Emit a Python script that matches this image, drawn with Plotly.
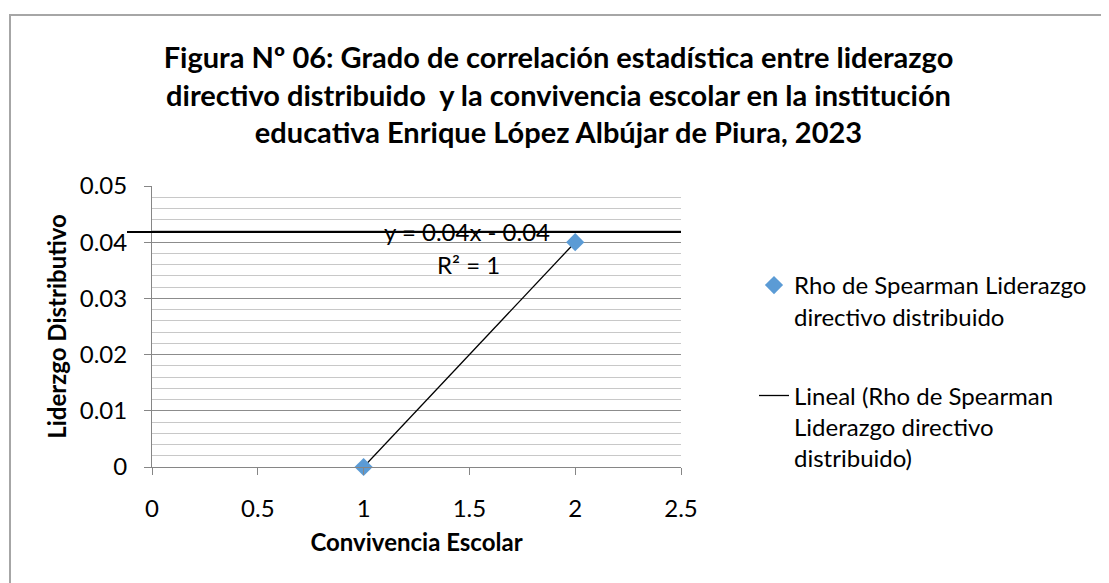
import numpy as np
import plotly.graph_objects as go

# ---- data ----
convivencia = [1, 2]                 # x values (Convivencia Escolar)
liderazgo = [0.0, 0.04]              # y values (Liderazgo Distributivo)
y_tick_vals = [0, 0.01, 0.02, 0.03, 0.04, 0.05]
y_tick_text = ["0", "0.01", "0.02", "0.03", "0.04", "0.05"]
x_tick_vals = [0, 0.5, 1, 1.5, 2, 2.5]
x_tick_text = ["0", "0.5", "1", "1.5", "2", "2.5"]
series_name = "Rho de Spearman Liderazgo<br>directivo distribuido"
trend_name = "Lineal (Rho de Spearman<br>Liderazgo directivo<br>distribuido)"
title_lines = [
    "Figura Nº 06: Grado de correlación estadística entre liderazgo",
    "directivo distribuido  y la convivencia escolar en la institución",
    "educativa Enrique López Albújar de Piura, 2023",
]
x_title = "Convivencia Escolar"
y_title = "Liderzgo Distributivo"
stray_line_level = 0.0418            # horizontal black line drawn over the chart

# ---- trendline from the data ----
m, b = np.polyfit(convivencia, liderazgo, 1)
trend_x = [min(convivencia), max(convivencia)]
trend_y = [m * v + b for v in trend_x]
pred = np.polyval([m, b], convivencia)
ss_res = float(np.sum((np.array(liderazgo) - pred) ** 2))
ss_tot = float(np.sum((np.array(liderazgo) - np.mean(liderazgo)) ** 2))
r2 = 1 - ss_res / ss_tot if ss_tot else 1
sign = "-" if b < 0 else "+"
eq_text = f"y = {m:.2f}x {sign} {abs(b):.2f}"
r2_text = f"R² = {r2:g}"

FONT = "Lato, 'Open Sans', sans-serif"

fig = go.Figure()
fig.add_trace(go.Scatter(
    x=trend_x, y=trend_y, mode="lines", name=trend_name,
    line=dict(color="black", width=1.3),
    legendgroup="b", legendrank=2,
))
fig.add_trace(go.Scatter(
    x=convivencia, y=liderazgo, mode="markers", name=series_name,
    marker=dict(symbol="diamond", size=14, color="#5B9BD5"),
    legendgroup="a", legendrank=1, cliponaxis=False,
))

OFF = 8  # page body margin
W, H = 1101, 575
L = 152 - OFF
T = 186 - OFF
R = W - (681 - OFF)
B = H - (467 - OFF)
pw, ph = W - L - R, H - T - B

def px_x(p):  # screen x -> paper
    return (p - OFF - L) / pw

def px_y(p):  # screen y -> paper
    return (H - B - (p - OFF)) / ph

fig.update_layout(
    width=W, height=H,
    margin=dict(l=L, r=R, t=T, b=B, autoexpand=False),
    paper_bgcolor="white", plot_bgcolor="white",
    font=dict(family=FONT, size=24, color="black"),
    title=dict(
        text="<b>" + "<br>".join(title_lines) + "</b>",
        x=0.5, xanchor="center", xref="container",
        y=1 - 60 / H, yanchor="middle", yref="container",
        font=dict(family=FONT, size=29, color="black"),
    ),
    xaxis=dict(
        range=[0, 2.5], tickmode="array", tickvals=x_tick_vals, ticktext=x_tick_text,
        showgrid=False, zeroline=False, automargin=False,
        showline=True, linecolor="#868686", linewidth=1,
        ticks="outside", ticklen=7, tickcolor="#868686",
        tickfont=dict(size=24), ticklabelstandoff=13,
        title=dict(text="<b>" + x_title + "</b>", font=dict(size=24), standoff=13),
    ),
    yaxis=dict(
        range=[0, 0.05], tickmode="array", tickvals=y_tick_vals, ticktext=y_tick_text,
        showgrid=True, gridcolor="#8C8C8C", gridwidth=1,
        minor=dict(dtick=0.002, tick0=0, showgrid=True, gridcolor="#C8C8C8", gridwidth=1),
        zeroline=False, automargin=False,
        showline=True, linecolor="#868686", linewidth=1,
        ticks="outside", ticklen=7, tickcolor="#868686",
        tickfont=dict(size=24), ticklabelstandoff=12,
        title=dict(text="<b>" + y_title + "</b>", font=dict(size=24), standoff=6),
    ),
    legend=dict(
        x=px_x(754), xanchor="left",
        y=px_y(263), yanchor="top",
        font=dict(size=24), valign="top",
        tracegroupgap=45, bgcolor="rgba(0,0,0,0)",
    ),
    showlegend=True,
)

# equation labels
fig.add_annotation(text=eq_text, x=px_x(467), y=px_y(231), xref="paper", yref="paper",
                   showarrow=False, font=dict(size=24), xanchor="center", yanchor="middle")
fig.add_annotation(text=r2_text, x=px_x(468), y=px_y(264), xref="paper", yref="paper",
                   showarrow=False, font=dict(size=24), xanchor="center", yanchor="middle")

# stray black line
fig.add_shape(type="line", xref="paper", yref="y",
              x0=px_x(127), x1=px_x(681), y0=stray_line_level, y1=stray_line_level,
              line=dict(color="black", width=2), layer="above")

# chart border (left edge kept just inside the page)
fig.add_shape(type="rect", xref="paper", yref="paper",
              x0=px_x(10), x1=px_x(1130), y0=px_y(610), y1=px_y(15),
              line=dict(color="#A6A6A6", width=2), fillcolor="rgba(0,0,0,0)", layer="below")

fig.write_html("out.html")
